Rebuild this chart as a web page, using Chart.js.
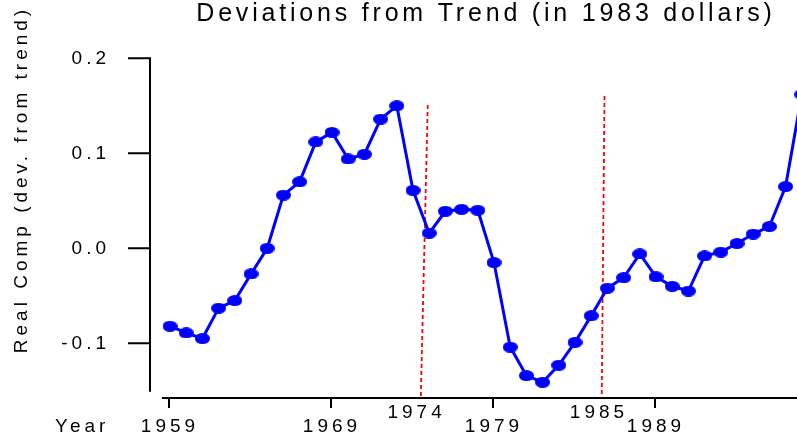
<!DOCTYPE html>
<html><head><meta charset="utf-8">
<script src="https://cdn.jsdelivr.net/npm/chart.js@4/dist/chart.umd.min.js"></script>
<style>
html,body{margin:0;padding:0;background:#fff;overflow:hidden;width:797px;height:440px;}
#wrap{position:absolute;left:0;top:0;width:835px;height:440px;}
canvas{display:block;}
</style></head><body>
<div id="wrap"><canvas id="c" width="835" height="440"></canvas></div>
<script>
// ---- data ----
const years = [1959,1960,1961,1962,1963,1964,1965,1966,1967,1968,1969,1970,1971,1972,1973,1974,1975,1976,1977,1978,1979,1980,1981,1982,1983,1984,1985,1986,1987,1988,1989,1990,1991,1992,1993,1994,1995,1996,1997,1998];
const realComp = [-0.082,-0.089,-0.095,-0.063,-0.055,-0.027,0.000,0.056,0.070,0.112,0.122,0.094,0.099,0.136,0.150,0.061,0.016,0.039,0.041,0.040,-0.015,-0.104,-0.134,-0.141,-0.123,-0.099,-0.071,-0.042,-0.031,-0.006,-0.030,-0.040,-0.045,-0.008,-0.004,0.005,0.015,0.023,0.065,0.162];
const xTickYears = [1959,1969,1979,1989];
const yTickValues = [-0.1,0.0,0.1,0.2];
const breakLabels = ['1974','1985'];
const break1974X = [1974.91,1974.48];
const break1974Y = [0.1508,-0.1576];
const break1985X = [1985.82,1985.65];
const break1985Y = [0.1603,-0.1576];
const titleText = 'Deviations from Trend (in 1983 dollars)';
const yTitleText = 'Real Comp (dev. from trend)';
const xTitleText = 'Year';

// ---- drawing ----
const FONT = '"Liberation Sans", Arial, sans-serif';
Chart.defaults.font.family = FONT;

function ellipseMarker(w, h, color){
  const c = document.createElement('canvas');
  c.width = w; c.height = h;
  const g = c.getContext('2d');
  g.fillStyle = color;
  g.beginPath(); g.ellipse(w/2, h/2, w/2, h/2, 0, 0, Math.PI*2); g.fill();
  return c;
}
const marker = ellipseMarker(15, 11, '#0000ff');

const mainData = years.map((y,i)=>({x:y, y:realComp[i]}));
const b1 = break1974X.map((x,i)=>({x:x, y:break1974Y[i]}));
const b2 = break1985X.map((x,i)=>({x:x, y:break1985Y[i]}));

const deco = {
  id:'deco',
  beforeDraw(chart){ chart.ctx.letterSpacing = '4px'; },
  afterDraw(chart){
    const ctx = chart.ctx, xs = chart.scales.x, ys = chart.scales.y, a = chart.chartArea;
    ctx.save();
    ctx.strokeStyle = '#000'; ctx.lineWidth = 2; ctx.lineCap = 'butt';
    const yAxisX = a.left + 12.4;
    ctx.beginPath();
    ctx.moveTo(yAxisX, ys.getPixelForValue(0.2) - 1);
    ctx.lineTo(yAxisX, ys.getPixelForValue(-0.151));
    yTickValues.forEach(v=>{ const p = ys.getPixelForValue(v); ctx.moveTo(yAxisX - 22, p); ctx.lineTo(yAxisX, p); });
    ctx.stroke();
    ctx.beginPath();
    ctx.moveTo(xs.getPixelForValue(1958.5), a.bottom);
    ctx.lineTo(a.right, a.bottom);
    xTickYears.forEach(v=>{ const p = xs.getPixelForValue(v) - 1; ctx.moveTo(p, a.bottom); ctx.lineTo(p, a.bottom + 10); });
    ctx.stroke();

    ctx.fillStyle = '#000';
    ctx.textBaseline = 'middle';
    ctx.font = '25px ' + FONT;
    ctx.letterSpacing = '3.8px';
    ctx.textAlign = 'center';
    ctx.fillText(titleText, 486, 14);

    ctx.font = '19px ' + FONT;
    ctx.letterSpacing = '4px';
    ctx.textAlign = 'left';
    ctx.fillText(xTitleText, 55, 426.7);
    ctx.textAlign = 'center';
    ctx.fillText(breakLabels[0], 416.6, 412.7);
    ctx.fillText(breakLabels[1], 599, 412.7);

    ctx.save();
    ctx.translate(22, 179.5);
    ctx.rotate(-Math.PI/2);
    ctx.fillText(yTitleText, 0, 0);
    ctx.restore();
    ctx.restore();
  }
};

const tickFont = {family: FONT, size: 19};

new Chart(document.getElementById('c'), {
  type: 'line',
  data: {
    datasets: [
      {data: mainData, borderColor:'#0000ff', backgroundColor:'#0000ff', borderWidth:3, tension:0,
       pointStyle: marker, pointRadius:5, pointHoverRadius:5, order:0},
      {data: b1, borderColor:'#ff0000', borderWidth:1.8, borderDash:[4,3], pointRadius:0, order:1},
      {data: b2, borderColor:'#ff0000', borderWidth:1.8, borderDash:[4,3], pointRadius:0, order:1}
    ]
  },
  options: {
    responsive:false, animation:false, devicePixelRatio:1,
    layout:{autoPadding:false, padding:{top:39.3, left:0, right:0.8, bottom:0}},
    plugins:{legend:{display:false}, title:{display:false}, tooltip:{enabled:false}},
    events: [],
    scales:{
      x:{type:'linear', min:1957, max:2000,
         afterBuildTicks:s=>{ s.ticks = xTickYears.map(v=>({value:v})); },
         afterFit:s=>{ s.height = 42; s.paddingLeft = 0; s.paddingRight = 0; s.paddingTop = 0; s.paddingBottom = 0; },
         grid:{display:false, drawTicks:false}, border:{display:false},
         ticks:{padding:17.5, maxRotation:0, autoSkip:false, color:'#000', font:tickFont, callback:v=>String(v)}},
      y:{type:'linear', min:-0.1576, max:0.22,
         afterBuildTicks:s=>{ s.ticks = yTickValues.map(v=>({value:v})); },
         afterFit:s=>{ s.width = 137.6; s.paddingLeft = 0; s.paddingRight = 0; s.paddingTop = 0; s.paddingBottom = 0; },
         grid:{display:false, drawTicks:false}, border:{display:false},
         ticks:{padding:27.6, color:'#000', font:tickFont, callback:v=>Number(v).toFixed(1)}}
    }
  },
  plugins:[deco]
});
</script>
</body></html>
